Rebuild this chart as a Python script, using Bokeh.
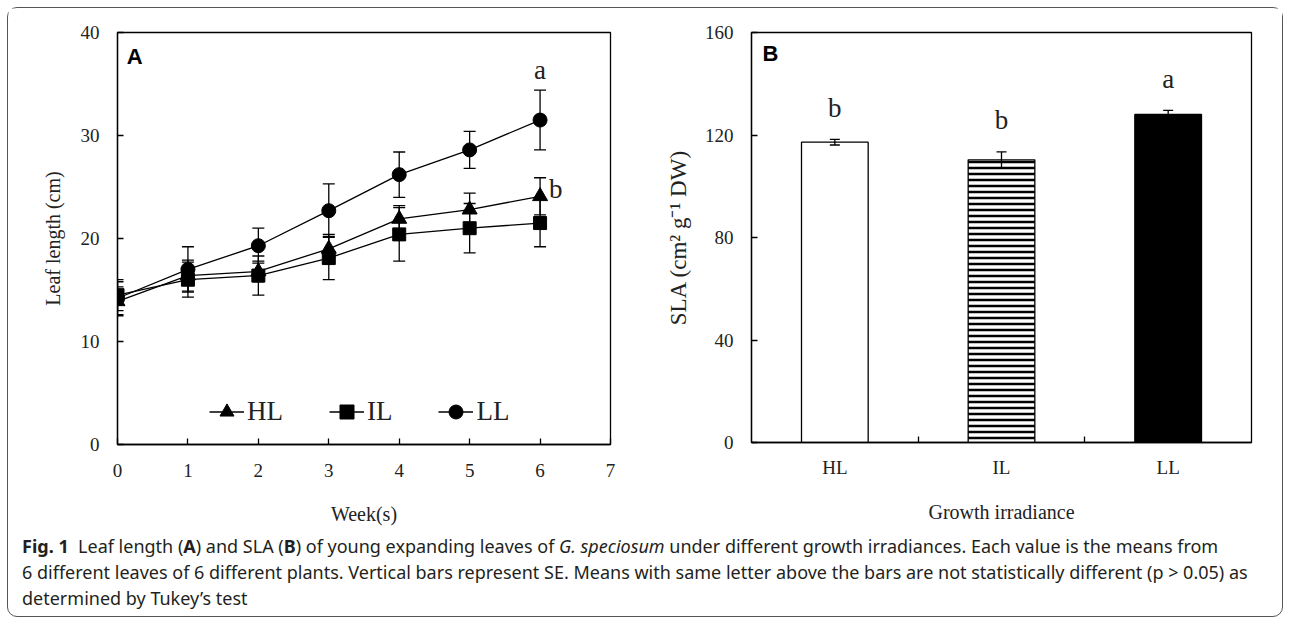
from bokeh.plotting import figure
from bokeh.models import (ColumnDataSource, Whisker, TeeHead, Legend, LegendItem,
                          Label, FixedTicker, Div)
from bokeh.layouts import row, column
from bokeh.core.properties import value
from bokeh.embed import file_html
from bokeh.resources import INLINE

# ---------------- data: panel A (leaf length, cm) ----------------
weeks = [0, 1, 2, 3, 4, 5, 6]
hl_mean = [13.9, 16.4, 16.8, 19.0, 21.9, 22.8, 24.1]
hl_se = [1.4, 1.5, 1.0, 1.4, 1.3, 1.6, 1.8]
il_mean = [14.5, 16.0, 16.4, 18.1, 20.4, 21.0, 21.5]
il_se = [1.5, 1.7, 1.9, 2.1, 2.6, 2.4, 2.3]
ll_mean = [14.2, 17.0, 19.3, 22.7, 26.2, 28.6, 31.5]
ll_se = [1.6, 2.2, 1.7, 2.6, 2.2, 1.8, 2.9]
week_ticks = [0, 1, 2, 3, 4, 5, 6, 7]
length_ticks = [0, 10, 20, 30, 40]
series_names = ["HL", "IL", "LL"]
final_letters = {"LL": "a", "HL": "b"}

# ---------------- data: panel B (SLA) ----------------
groups = ["HL", "IL", "LL"]
sla_mean = [117.2, 110.3, 128.0]
sla_se = [1.1, 3.1, 1.6]
sla_letters = ["b", "b", "a"]
sla_ticks = [0, 40, 80, 120, 160]

SERIF = "Liberation Serif"
SANS = "Liberation Sans"
TXT = "#222222"


def style_axes(p, xlabel, ylabel):
    p.xaxis.axis_label = xlabel
    p.yaxis.axis_label = ylabel
    for ax in (p.xaxis[0], p.yaxis[0]):
        ax.axis_line_color = "black"
        ax.axis_line_width = 1.3
        ax.major_tick_in = 6
        ax.major_tick_out = 0
        ax.major_tick_line_color = "black"
        ax.major_tick_line_width = 1.3
        ax.minor_tick_line_color = None
        ax.major_label_text_font = SERIF
        ax.major_label_text_font_size = "19px"
        ax.major_label_text_color = TXT
        ax.axis_label_text_font = SERIF
        ax.axis_label_text_font_size = "20px"
        ax.axis_label_text_font_style = "normal"
        ax.axis_label_text_color = TXT
    p.yaxis.major_label_standoff = 18
    p.yaxis.axis_label_standoff = 14
    p.xgrid.visible = False
    p.ygrid.visible = False
    p.outline_line_color = "black"
    p.outline_line_width = 1.3
    p.outline_line_alpha = 1.0
    p.background_fill_color = "white"
    p.border_fill_color = "white"


# ---------------- Panel A ----------------
pA = figure(frame_width=493, frame_height=412, x_range=(0, 7), y_range=(0, 40),
            min_border_left=109, min_border_right=49, min_border_top=23,
            min_border_bottom=84, output_backend="svg", toolbar_location=None)
style_axes(pA, "Week(s)", "Leaf length (cm)")
pA.xaxis.major_label_standoff = 19
pA.xaxis.axis_label_standoff = 23
pA.xaxis.ticker = FixedTicker(ticks=week_ticks)
pA.yaxis.ticker = FixedTicker(ticks=length_ticks)

series = {
    "HL": (hl_mean, hl_se, "triangle", 15),
    "IL": (il_mean, il_se, "square", 13),
    "LL": (ll_mean, ll_se, "circle", 14),
}
items = []
for name in series_names:
    mean, se, marker, size = series[name]
    src = ColumnDataSource(dict(
        x=weeks, y=mean,
        lo=[m - s for m, s in zip(mean, se)],
        hi=[m + s for m, s in zip(mean, se)]))
    ln = pA.line("x", "y", source=src, line_color="black", line_width=1.3)
    wk = Whisker(source=src, base="x", upper="hi", lower="lo",
                 line_color="black", line_width=1.3,
                 upper_head=TeeHead(size=12, line_color="black", line_width=1.3),
                 lower_head=TeeHead(size=12, line_color="black", line_width=1.3))
    pA.add_layout(wk)
    sc = pA.scatter("x", "y", source=src, marker=marker, size=size,
                    fill_color="black", line_color="black")
    items.append(LegendItem(label=name, renderers=[ln, sc]))

legend = Legend(items=items, orientation="horizontal", location=(92, 15),
                padding=0, margin=0, spacing=46, glyph_width=35, glyph_height=35,
                label_standoff=3, label_height=35,
                label_text_font=SERIF, label_text_font_size="27px",
                label_text_color=TXT,
                border_line_color=None, background_fill_alpha=0)
pA.add_layout(legend)

# significance letters at the final week
ll_top = ll_mean[-1] + ll_se[-1]
pA.add_layout(Label(x=weeks[-1], y=ll_top, y_offset=20, text=final_letters["LL"],
                    text_font=SERIF, text_font_size="27px", text_color=TXT,
                    text_align="center", text_baseline="middle"))
pA.add_layout(Label(x=weeks[-1], y=hl_mean[-1], x_offset=9, y_offset=7,
                    text=final_letters["HL"],
                    text_font=SERIF, text_font_size="27px", text_color=TXT,
                    text_align="left", text_baseline="middle"))
pA.add_layout(Label(x=0.13, y=37.7, text="A", text_font=SANS,
                    text_font_size="22px", text_font_style="bold",
                    text_color="black", text_baseline="middle"))

# ---------------- Panel B ----------------
xs = [i + 0.5 for i in range(len(groups))]
pB = figure(frame_width=500, frame_height=410, x_range=(0, len(groups)),
            y_range=(0, 160),
            min_border_left=92, min_border_right=31, min_border_top=24,
            min_border_bottom=86, output_backend="svg", toolbar_location=None)
style_axes(pB, "Growth irradiance", "SLA (cm²\u00a0g⁻¹\u00a0DW)")
pB.yaxis.axis_label_text_font_size = "23px"
pB.yaxis.axis_label_standoff = 11
pB.xaxis.major_label_standoff = 14
pB.xaxis.axis_label_standoff = 20
pB.yaxis.ticker = FixedTicker(ticks=sla_ticks)
pB.xaxis.ticker = FixedTicker(ticks=xs, minor_ticks=[i for i in range(1, len(groups))])
pB.xaxis.major_label_overrides = {x: g for x, g in zip(xs, groups)}
pB.xaxis.major_tick_in = 0
pB.xaxis.minor_tick_in = 6
pB.xaxis.minor_tick_out = 0
pB.xaxis.minor_tick_line_color = "black"
pB.xaxis.minor_tick_line_width = 1.3

bar_fill = {"HL": "white", "IL": "white", "LL": "black"}
bar_hatch = {"HL": " ", "IL": "-", "LL": " "}
bsrc = ColumnDataSource(dict(
    x=xs, top=sla_mean,
    lo=[m - s for m, s in zip(sla_mean, sla_se)],
    hi=[m + s for m, s in zip(sla_mean, sla_se)],
    ly=[m + s + 12.3 for m, s in zip(sla_mean, sla_se)],
    letter=sla_letters,
    fill=[bar_fill[g] for g in groups],
    hatch=[bar_hatch[g] for g in groups]))
pB.vbar(x="x", top="top", bottom=0, width=0.4, source=bsrc,
        fill_color="fill", line_color="black", line_width=1.3,
        hatch_pattern="hatch", hatch_color="black", hatch_scale=6,
        hatch_weight=2.5)
pB.add_layout(Whisker(source=bsrc, base="x", upper="hi", lower="lo",
                      line_color="black", line_width=1.3, level="overlay",
                      upper_head=TeeHead(size=10, line_color="black", line_width=1.3),
                      lower_head=TeeHead(size=10, line_color="black", line_width=1.3)))
pB.text(x="x", y="ly", text="letter", source=bsrc, text_font=value(SERIF),
        text_font_size="27px", text_color=TXT, text_align="center",
        text_baseline="middle")
pB.add_layout(Label(x=0.066, y=151.8, text="B", text_font=SANS,
                    text_font_size="22px", text_font_style="bold",
                    text_color="black", text_baseline="middle"))

# ---------------- caption ----------------
caption_html = (
    "<div style=\"font-family:'Noto Sans'; font-size:18px; line-height:26px; "
    "color:#231f20; white-space:nowrap; padding-left:9px;\">"
    "<b>Fig. 1</b>&nbsp;&nbsp;Leaf length (<b>A</b>) and SLA (<b>B</b>) of young expanding "
    "leaves of <i>G. speciosum</i> under different growth irradiances. Each value is the means from<br>"
    "6 different leaves of 6 different plants. Vertical bars represent SE. Means with same letter "
    "above the bars are not statistically different (p &gt; 0.05) as<br>"
    "determined by Tukey’s test</div>"
)
cap = Div(text=caption_html, width=1262, height=78)

layout = column(row(pA, pB), cap,
                styles={"border": "1px solid #555555", "border-radius": "10px",
                        "margin-left": "7px", "margin-top": "7px"})

open("out.html", "w").write(file_html(layout, INLINE))
